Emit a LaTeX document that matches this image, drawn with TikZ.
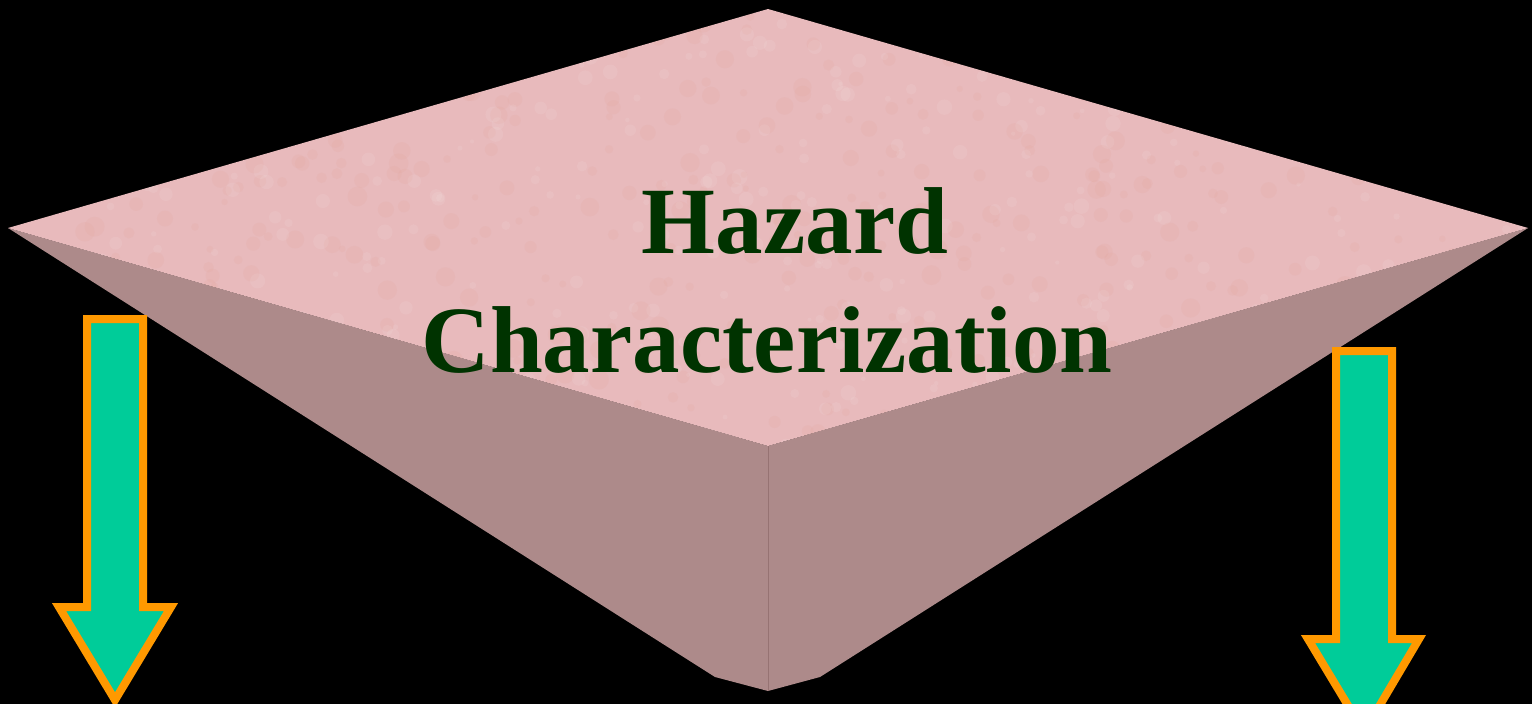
\documentclass[tikz,border=0pt]{standalone}
\usepackage{fontspec}
\setmainfont{Liberation Serif}
\definecolor{topface}{RGB}{232,186,188}
\definecolor{sideface}{RGB}{173,138,138}
\definecolor{edgecol}{RGB}{150,115,115}
\definecolor{teal}{RGB}{0,204,153}
\definecolor{orangec}{RGB}{255,153,0}
\definecolor{darkgreen}{RGB}{0,51,0}
\tikzset{
  downarrow/.style={fill=teal, draw=orangec, line width=8pt, miter limit=10},
  title/.style={anchor=base, text=darkgreen, font=\fontsize{95}{117}\selectfont\bfseries, inner sep=0pt}
}
\begin{document}
\begin{tikzpicture}[x=1pt,y=-1pt]
\fill[black] (0,0) rectangle (1532,704);
\useasboundingbox (0,0) rectangle (1532,704);
% side (lower) face
\coordinate (L) at (8,228);
\coordinate (R) at (1528,228);
\coordinate (T) at (768,9);
\coordinate (F) at (768,446);
\coordinate (B) at (768,691);
\fill[sideface] (L) -- (715,677) -- (B) -- (820,677) -- (R) -- (F) -- cycle;
\draw[edgecol, line width=1pt] (F) -- (B);
% top face
\fill[topface] (L) -- (T) -- (R) -- (F) -- cycle;
% texture hints
\begin{scope}
\clip (L) -- (T) -- (R) -- (F) -- cycle;
\pgfmathsetseed{7}
\foreach \i in {1,...,500}{
  \pgfmathsetmacro{\px}{rnd*1520+8}
  \pgfmathsetmacro{\py}{rnd*440+9}
  \pgfmathsetmacro{\pr}{rnd*7+3}
  \fill[topface!80!red!60!brown, opacity=0.07] (\px,\py) circle (\pr);
}
\foreach \i in {1,...,400}{
  \pgfmathsetmacro{\px}{rnd*1520+8}
  \pgfmathsetmacro{\py}{rnd*440+9}
  \pgfmathsetmacro{\pr}{rnd*6+2}
  \fill[white, opacity=0.08] (\px,\py) circle (\pr);
}
\end{scope}
% text
\node[title] (haz) at (795,253) {Hazard};
\node[title] (char) at (767,372) {Characterization};
% arrows
\draw[downarrow] (87,319) -- (143,319) -- (143,607) -- (171,607) -- (115,700) -- (59,607) -- (87,607) -- cycle;
\draw[downarrow] (1336,351) -- (1392,351) -- (1392,639) -- (1419,639) -- (1364,732) -- (1308,639) -- (1336,639) -- cycle;
\end{tikzpicture}
\end{document}
